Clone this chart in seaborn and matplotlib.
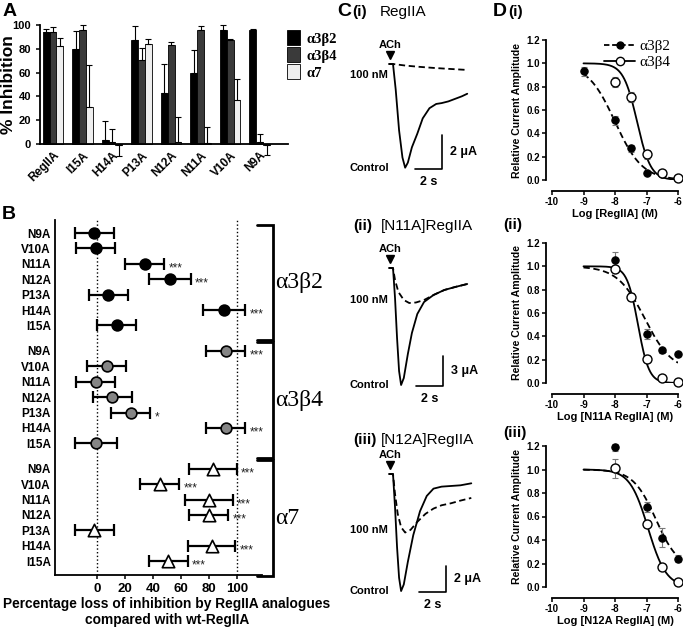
import numpy as np
import pandas as pd
import seaborn as sns
import matplotlib.pyplot as plt
from matplotlib.lines import Line2D
from matplotlib.patches import Patch

# ---------------- data ----------------
# A: % inhibition by 100 nM peptide
A_PEPTIDES = ['RegIIA', 'I15A', 'H14A', 'P13A', 'N12A', 'N11A', 'V10A', 'N9A']
A_RECEPTORS = ['α3β2', 'α3β4', 'α7']
a_b2 = [94, 80, 3, 87, 43, 60, 96, 96]
a_b2_err = [3, 15, 16, 12, 24, 19, 4, 1]
a_b4 = [94, 96, 2, 71, 83, 96, 87, 2]
a_b4_err = [4, 4, 11, 10, 3, 3, 1, 6]
a_a7 = [82, 31, -1, 84, 2, 1, 37, -1]
a_a7_err = [7, 35, 9, 4, 21, 13, 18, 8]

# B: percentage loss of inhibition vs wt-RegIIA
B_ROWS = ['N9A', 'V10A', 'N11A', 'N12A', 'P13A', 'H14A', 'I15A']
b_b2 = [-2, -1, 34, 52, 8, 91, 14]
b_b2_err = [14, 14, 14, 15, 14, 15, 14]
b_b2_sig = ['', '', '***', '***', '', '***', '']
b_b4 = [92, 7, -1, 11, 24, 92, -1]
b_b4_err = [14, 14, 14, 14, 14, 14, 15]
b_b4_sig = ['***', '', '', '', '*', '***', '']
b_a7 = [83, 45, 80, 80, -2, 82, 51]
b_a7_err = [17, 14, 17, 14, 14, 17, 14]
b_a7_sig = ['***', '***', '***', '***', '', '***', '***']

# C: current traces (time s, current uA)
c1_t = [-0.3, 0, 0.2, 0.45, 0.7, 0.9, 1.1, 1.4, 1.8, 2.2, 2.7, 3.2, 3.6, 4.1, 4.6, 5.1, 5.5]
c1_ctrl = [0, 0, -1.5, -3.9, -5.5, -6.1, -5.8, -4.9, -4.1, -3.2, -2.6, -2.35, -2.3, -2.2, -2.05, -1.9, -1.75]
c1_pep_t = [-0.3, 0, 1, 2, 3, 4, 5.5]
c1_pep = [0, 0, -0.1, -0.17, -0.23, -0.28, -0.35]

c2_t = [-0.3, 0, 0.15, 0.3, 0.45, 0.6, 0.8, 1.1, 1.4, 1.8, 2.3, 3.0, 3.8, 4.6, 5.5]
c2_ctrl = [0, 0, -3.0, -7.0, -10.3, -11.7, -11.0, -8.6, -6.5, -4.6, -3.4, -2.7, -2.2, -1.9, -1.6]
c2_pep_t = [-0.3, 0, 0.15, 0.4, 0.8, 1.2, 1.7, 2.3, 3.0, 3.8, 4.6, 5.5]
c2_pep = [0, 0, -1.2, -2.4, -3.2, -3.5, -3.45, -3.2, -2.7, -2.2, -1.9, -1.6]

c3_t = [-0.3, 0, 0.15, 0.3, 0.45, 0.6, 0.8, 1.1, 1.5, 2.0, 2.5, 3.0, 3.6, 4.3, 5.0, 5.8]
c3_ctrl = [0, 0, -2.5, -5.5, -7.8, -8.8, -8.3, -6.6, -4.6, -2.8, -1.65, -1.1, -0.95, -0.9, -0.85, -0.7]
c3_pep_t = [-0.3, 0, 0.15, 0.35, 0.6, 0.9, 1.3, 1.8, 2.4, 3.0, 3.6, 4.3, 5.0, 5.8]
c3_pep = [0, 0, -1.5, -3.0, -4.0, -4.4, -4.2, -3.6, -3.0, -2.6, -2.35, -2.2, -2.0, -1.8]

c_titles = [('C (i)', 'RegIIA'), ('(ii)', '[N11A]RegIIA'), ('(iii)', '[N12A]RegIIA')]
c_scale = [(2, 2), (2, 3), (2, 2)]  # (s, uA)

# D: concentration-response (log M, relative amplitude)
d1_b2_x = [-9, -8, -7.5, -7, -6.5, -6]
d1_b2_y = [0.93, 0.51, 0.27, 0.06, 0.05, 0.02]
d1_b2_e = [0.04, 0.04, 0.03, 0.01, 0.01, 0.01]
d1_b4_x = [-8, -7.5, -7, -6.5, -6]
d1_b4_y = [0.84, 0.71, 0.22, 0.06, 0.02]
d1_b4_e = [0.04, 0.04, 0.04, 0.01, 0.01]

d2_b2_x = [-8, -7.5, -7, -6.5, -6]
d2_b2_y = [1.05, 0.74, 0.42, 0.28, 0.25]
d2_b2_e = [0.07, 0.03, 0.04, 0.02, 0.02]
d2_b4_x = [-8, -7.5, -7, -6.5, -6]
d2_b4_y = [0.98, 0.74, 0.21, 0.04, 0.01]
d2_b4_e = [0.02, 0.03, 0.03, 0.01, 0.01]

d3_b2_x = [-8, -7, -6.5, -6]
d3_b2_y = [1.19, 0.68, 0.42, 0.24]
d3_b2_e = [0.03, 0.04, 0.08, 0.03]
d3_b4_x = [-8, -7, -6.5, -6]
d3_b4_y = [1.01, 0.54, 0.17, 0.04]
d3_b4_e = [0.08, 0.03, 0.01, 0.01]

# fitted curves: (logIC50, hill slope, bottom)
d_fit_b2 = [(-8.0, 1.0, 0.0), (-7.05, 1.0, 0.10), (-6.7, 1.2, 0.15)]
d_fit_b4 = [(-7.3, 2.0, 0.0), (-7.27, 2.5, 0.0), (-6.95, 1.5, 0.0)]
d_xlabels = ['Log [RegIIA] (M)', 'Log [N11A RegIIA] (M)', 'Log [N12A RegIIA] (M)']

# ---------------- style ----------------
sns.set_theme(style="ticks")
plt.rcParams['font.family'] = ['Liberation Sans', 'DejaVu Sans']
plt.rcParams.update({'axes.edgecolor': 'black', 'xtick.color': 'black', 'ytick.color': 'black',
                     'text.color': 'black', 'axes.labelcolor': 'black', 'axes.linewidth': 1.3,
                     'xtick.major.width': 1.1, 'ytick.major.width': 1.1,
                     'axes.unicode_minus': False})
SERIF = ['Liberation Serif', 'DejaVu Serif']

W, H = 683, 629
fig = plt.figure(figsize=(W / 100, H / 100), dpi=100)


def box(x0, y0, x1, y1):
    return fig.add_axes([x0 / W, 1 - y1 / H, (x1 - x0) / W, (y1 - y0) / H])


def ftext(x, y, s, **kw):
    fig.text(x / W, 1 - y / H, s, **kw)


# ---------------- panel A ----------------
axA = box(40, 25, 288, 158.3)
dfA = pd.DataFrame({'peptide': A_PEPTIDES * 3,
                    'receptor': np.repeat(A_RECEPTORS, len(A_PEPTIDES)),
                    'inhib': a_b2 + a_b4 + a_a7})
a_cols = ['#000000', '#3a3a3a', '#eeeeee']
sns.barplot(data=dfA, x='peptide', y='inhib', hue='receptor', hue_order=A_RECEPTORS,
            palette=a_cols, width=0.7, edgecolor='black', linewidth=0.6,
            errorbar=None, ax=axA, legend=False)
for cont, errs in zip(axA.containers, [a_b2_err, a_b4_err, a_a7_err]):
    for bar, e in zip(cont, errs):
        xc = bar.get_x() + bar.get_width() / 2
        h = bar.get_height()
        yerr = [[0], [e]] if h >= 0 else [[e], [0]]
        axA.errorbar(xc, h, yerr=yerr, fmt='none', ecolor='black', elinewidth=0.8,
                     capsize=2, capthick=0.8, clip_on=False)
axA.set_xlim(-0.44, 7.96)
axA.set_ylim(-12, 100)
axA.spines['bottom'].set_position(('data', 0))
axA.spines['left'].set_bounds(0, 100)
axA.spines[['top', 'right']].set_visible(False)
axA.set_yticks([0, 20, 40, 60, 80, 100])
axA.tick_params(axis='y', labelsize=8, length=3)
axA.tick_params(axis='x', length=0, pad=4)
axA.set_xticks(range(len(A_PEPTIDES)))
axA.set_xticklabels(A_PEPTIDES, rotation=45, ha='right', rotation_mode='anchor',
                    fontsize=8.5, fontweight='bold')
for t in axA.get_yticklabels():
    t.set_fontweight('bold')
axA.set_xlabel('')
axA.set_ylabel('% Inhibition', fontsize=12.5, fontweight='bold')
axA.yaxis.set_label_coords(-0.098, 0.55)
handles = [Patch(facecolor=c, edgecolor='black', linewidth=0.6) for c in a_cols]
fig.legend(handles, A_RECEPTORS, loc='upper left', bbox_to_anchor=(274 / W, 1 - 17 / H),
           frameon=False, handlelength=0.9, handleheight=1.2, handletextpad=0.4,
           labelspacing=0.12, prop={'family': SERIF, 'weight': 'bold', 'size': 10.5})
ftext(3, 12, 'A', fontsize=14, fontweight='bold', va='center')

# ---------------- panel B ----------------
axB = box(55, 220, 262, 575)
GROUP_STEP = 7.65
b_sets = [('α3β2', b_b2, b_b2_err, b_b2_sig), ('α3β4', b_b4, b_b4_err, b_b4_sig),
          ('α7', b_a7, b_a7_err, b_a7_sig)]
rows = []
for g, (name, vals, errs, sigs) in enumerate(b_sets):
    for i, r in enumerate(B_ROWS):
        rows.append({'receptor': name, 'peptide': r, 'pos': g * GROUP_STEP + i,
                     'loss': vals[i], 'err': errs[i], 'sig': sigs[i]})
dfB = pd.DataFrame(rows)

axB.axvline(0, ls=':', color='black', lw=1.0, zorder=0)
axB.axvline(100, ls=':', color='black', lw=1.0, zorder=0)
b_style = {'α3β2': ('o', 'black', 60), 'α3β4': ('o', '#858585', 60), 'α7': ('^', 'white', 80)}
for name, sub in dfB.groupby('receptor', sort=False):
    axB.errorbar(sub['loss'], sub['pos'], xerr=sub['err'], fmt='none', ecolor='black',
                 elinewidth=1.6, capsize=4, capthick=1.6, zorder=2)
    mk, col, sz = b_style[name]
    sns.scatterplot(data=sub, x='loss', y='pos', marker=mk, color=col, s=sz,
                    edgecolor='black', linewidth=1.2, ax=axB, zorder=3, legend=False)
    for _, r in sub.iterrows():
        if r['sig']:
            axB.text(r['loss'] + r['err'] + 3, r['pos'] + 0.3, r['sig'], fontsize=8.5,
                     color='#222222', va='center', ha='left')
axB.set_xlim(-30, 118)
axB.set_ylim(22.2, -0.85)
axB.set_yticks(dfB['pos'])
axB.set_yticklabels(dfB['peptide'], fontsize=8.5, fontweight='bold')
axB.set_xticks([0, 20, 40, 60, 80, 100])
axB.set_xticklabels(['0', '20', '40', '60', '80', '100'], fontsize=9.5, fontweight='bold')
axB.tick_params(axis='y', length=0, pad=3)
axB.tick_params(axis='x', length=3, pad=3)
axB.spines[['top', 'right']].set_visible(False)
axB.set_xlabel('')
axB.set_ylabel('')
ftext(167, 612, 'Percentage loss of inhibition by RegIIA analogues\ncompared with wt-RegIIA',
      fontsize=9.9, fontweight='bold', ha='center', va='center', linespacing=1.1)
# receptor brackets
for g, (name, *_rest) in enumerate(b_sets):
    top = g * GROUP_STEP - 0.55
    bot = g * GROUP_STEP + 6 + 0.95
    axB.plot([114.3, 125.7, 125.7, 114.3], [top, top, bot, bot], color='black', lw=2.0,
             clip_on=False, solid_joinstyle='miter')
    axB.text(127.5, (top + bot) / 2, name, fontsize=17, family=SERIF, va='center', ha='left')
ftext(2, 215, 'B', fontsize=14, fontweight='bold', va='center')

# ---------------- panel C ----------------
PX_S = 13.5
c_traces = [(c1_t, c1_ctrl, c1_pep_t, c1_pep), (c2_t, c2_ctrl, c2_pep_t, c2_pep),
            (c3_t, c3_ctrl, c3_pep_t, c3_pep)]
# layout per trace: (title y px, start y px, px per uA, scale-bar corner x px, "100 nM" drop px)
c_layout = [(12, 64, 17.0, 442, 11), (226, 268, 10.0, 443, 32), (440, 474, 13.3, 446, 56)]
X0 = 393
for (tt, ctrl, pt, pep), (ttl, sub), (bs, bua), (ty, y0, pua, cx, nm) in zip(
        c_traces, c_titles, c_scale, c_layout):
    ytop, ybot = y0 - 40, y0 + 140
    ax = box(335, ytop, 483, ybot)
    ax.set_xlim(-(X0 - 335) / PX_S, (483 - X0) / PX_S)
    ax.set_ylim(-(ybot - y0) / pua, (y0 - ytop) / pua)
    ax.axis('off')
    sns.lineplot(x=tt, y=ctrl, ax=ax, color='black', lw=1.3, sort=False, estimator=None)
    sns.lineplot(x=pt, y=pep, ax=ax, color='black', lw=1.3, ls=(0, (3.5, 2)), sort=False,
                 estimator=None)
    trough = min(ctrl)
    # scale bar
    sx = (cx - X0) / PX_S
    sy = trough - 0.1
    ax.plot([sx - bs, sx, sx], [sy, sy, sy + bua], color='black', lw=1.2)
    ax.text(sx + 8 / PX_S, sy + bua / 2, f'{bua} μA', fontsize=9, fontweight='bold',
            va='center', ha='left')
    ax.text(sx - bs / 2, sy - 7 / pua, f'{bs} s', fontsize=9, fontweight='bold',
            va='top', ha='center')
    ax.text(-4 / PX_S, trough, 'Control', fontsize=8, fontweight='bold', ha='right',
            va='center')
    ax.text(-5 / PX_S, -nm / pua, '100 nM', fontsize=8, fontweight='bold', ha='right',
            va='center')
    ax.plot([-0.2], [9 / pua], marker='v', color='black', ms=6)
    ax.text(-0.2, 14 / pua, 'ACh', fontsize=8, fontweight='bold', ha='center', va='bottom')
    if ttl.startswith('C'):
        ftext(337, ty, 'C', fontsize=14, fontweight='bold', va='center')
        ftext(352, ty, '(i)', fontsize=11, fontweight='bold', va='center')
        ftext(380, ty, sub, fontsize=11, va='center')
    else:
        ftext(353, ty, ttl, fontsize=11, fontweight='bold', va='center')
        ftext(381, ty, sub, fontsize=11, va='center')

# ---------------- panel D ----------------
d_sets = [(d1_b2_x, d1_b2_y, d1_b2_e, d1_b4_x, d1_b4_y, d1_b4_e),
          (d2_b2_x, d2_b2_y, d2_b2_e, d2_b4_x, d2_b4_y, d2_b4_e),
          (d3_b2_x, d3_b2_y, d3_b2_e, d3_b4_x, d3_b4_y, d3_b4_e)]
d_boxes = [(552, 40, 678, 180), (552, 243, 678, 383), (552, 446, 678, 587)]
d_titles = [(12, '(i)'), (225, '(ii)'), (433, '(iii)')]


def hill(x, logic50, n, bottom):
    return bottom + (1 - bottom) / (1 + 10 ** (n * (x - logic50)))


xfit = np.linspace(-9, -6, 200)
for k, ((bx, by, be, ox, oy, oe), bb, (tyy, tl)) in enumerate(zip(d_sets, d_boxes, d_titles)):
    ax = box(*bb)
    sns.lineplot(x=xfit, y=hill(xfit, *d_fit_b2[k]), ax=ax, color='black', lw=1.3,
                 ls=(0, (3.5, 2)))
    sns.lineplot(x=xfit, y=hill(xfit, *d_fit_b4[k]), ax=ax, color='black', lw=1.3)
    ax.errorbar(bx, by, yerr=be, fmt='none', ecolor='#777777', elinewidth=0.8, capsize=2,
                capthick=0.8, clip_on=False, zorder=3)
    ax.errorbar(ox, oy, yerr=oe, fmt='none', ecolor='#777777', elinewidth=0.8, capsize=2,
                capthick=0.8, clip_on=False, zorder=3)
    sns.scatterplot(x=bx, y=by, ax=ax, color='black', s=28, edgecolor='black',
                    linewidth=0.8, zorder=4, clip_on=False)
    sns.scatterplot(x=ox, y=oy, ax=ax, color='white', s=42, edgecolor='black',
                    linewidth=1.0, zorder=5, clip_on=False)
    ax.set_xlim(-10, -6)
    ax.set_ylim(0, 1.2)
    ax.spines[['top', 'right']].set_visible(False)
    ax.spines['left'].set_position(('outward', 4))
    ax.spines['bottom'].set_position(('outward', 8))
    ax.set_xticks([-10, -9, -8, -7, -6])
    ax.set_yticks([0, 0.2, 0.4, 0.6, 0.8, 1.0, 1.2])
    ax.set_yticklabels([f'{v:.1f}' for v in [0, 0.2, 0.4, 0.6, 0.8, 1.0, 1.2]])
    ax.tick_params(labelsize=7, length=3, pad=1.5)
    for t in ax.get_xticklabels() + ax.get_yticklabels():
        t.set_fontweight('bold')
    ax.set_xlabel(d_xlabels[k], fontsize=8, fontweight='bold', labelpad=1)
    ax.set_ylabel('Relative Current Amplitude', fontsize=7.6, fontweight='bold', labelpad=3)
    if k == 0:
        ftext(493, tyy, 'D', fontsize=14, fontweight='bold', va='center')
        ftext(508, tyy, tl, fontsize=11, fontweight='bold', va='center')
        hnd = [Line2D([], [], color='black', ls=(0, (3, 1.5)), lw=1.3, marker='o', ms=5,
                      mfc='black', mec='black'),
               Line2D([], [], color='black', ls='-', lw=1.3, marker='o', ms=6,
                      mfc='white', mec='black')]
        ax.legend(hnd, ['α3β2', 'α3β4'], loc='upper right', bbox_to_anchor=(1.05, 1.1),
                  frameon=False, handlelength=2.0, handletextpad=0.3, labelspacing=0.15,
                  prop={'family': SERIF, 'size': 11})
    else:
        ftext(503, tyy, tl, fontsize=11, fontweight='bold', va='center')

fig.savefig('out.png', dpi=100)
